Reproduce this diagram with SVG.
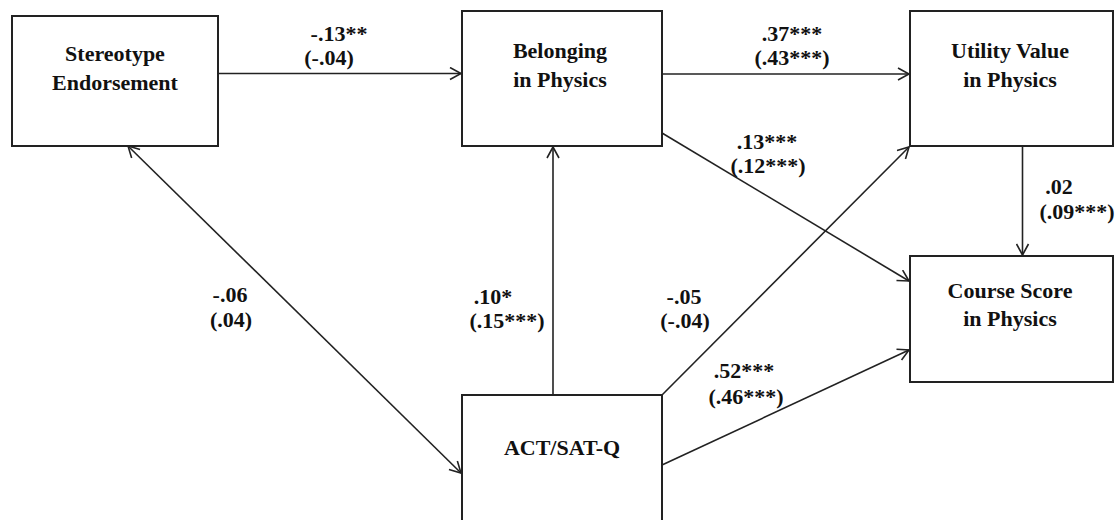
<svg xmlns="http://www.w3.org/2000/svg" width="1115" height="520" viewBox="0 0 1115 520">
<style>
.box{fill:#fff;stroke:#222;stroke-width:2}
text{font-family:'Liberation Serif','Times New Roman','DejaVu Serif',serif;font-weight:700;font-size:22px;fill:#111;text-anchor:middle}
.c{stroke:#222;stroke-width:1.6;fill:none;marker-end:url(#ah)}
</style>
<defs>
<marker id="ah" markerUnits="userSpaceOnUse" markerWidth="14" markerHeight="14" viewBox="0 0 14 14" refX="12" refY="7" orient="auto-start-reverse">
<path d="M1,1 L12,7 L1,13" fill="none" stroke="#222" stroke-width="1.6"/>
</marker>
</defs>
<rect width="1115" height="520" fill="#fff"/>
<g id="connectors">
<line class="c" x1="218" y1="73.5" x2="461" y2="73.5"/>
<line class="c" x1="662" y1="74" x2="909" y2="74"/>
<line class="c" x1="662" y1="133" x2="909" y2="281"/>
<line class="c" x1="1022.5" y1="146" x2="1022.5" y2="255"/>
<line class="c" x1="128" y1="146" x2="461" y2="473" style="marker-start:url(#ah)"/>
<line class="c" x1="553" y1="395" x2="553" y2="147"/>
<line class="c" x1="662" y1="395" x2="909" y2="147"/>
<line class="c" x1="662" y1="465" x2="909" y2="350"/>
</g>
<g id="labels">
<text x="339" y="41">-.13**</text>
<text x="329" y="65">(-.04)</text>
<text x="792" y="41">.37***</text>
<text x="792" y="65">(.43***)</text>
<text x="767" y="149">.13***</text>
<text x="768" y="173">(.12***)</text>
<text x="1059" y="194">.02</text>
<text x="1077" y="219">(.09***)</text>
<text x="230" y="302">-.06</text>
<text x="231" y="327">(.04)</text>
<text x="493" y="304">.10*</text>
<text x="507" y="328">(.15***)</text>
<text x="684" y="304">-.05</text>
<text x="685" y="328">(-.04)</text>
<text x="744" y="378">.52***</text>
<text x="746" y="404">(.46***)</text>
</g>
<g id="stereotype">
<rect class="box" x="12" y="16" width="206" height="130"/>
<text x="115" y="61">Stereotype</text>
<text x="115" y="90">Endorsement</text>
</g>
<g id="belonging">
<rect class="box" x="462" y="11" width="200" height="135"/>
<text x="560" y="58">Belonging</text>
<text x="560" y="87">in Physics</text>
</g>
<g id="utility">
<rect class="box" x="910" y="11" width="203" height="135"/>
<text x="1010" y="58">Utility Value</text>
<text x="1010" y="87">in Physics</text>
</g>
<g id="course">
<rect class="box" x="910" y="256" width="203" height="126"/>
<text x="1010" y="298">Course Score</text>
<text x="1010" y="326">in Physics</text>
</g>
<g id="act">
<rect class="box" x="462" y="395" width="200" height="135"/>
<text x="562" y="455">ACT/SAT-Q</text>
</g>
</svg>
